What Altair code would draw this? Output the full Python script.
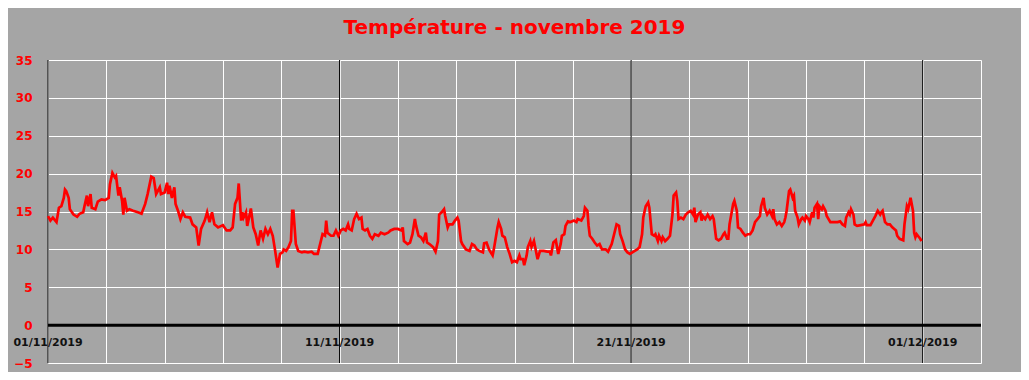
import altair as alt
import pandas as pd

TITLE = "Température - novembre 2019"

# hours since 01/11/2019 00:00
HOURS = [
    0, 2, 4, 7, 9, 11, 13, 14, 15, 17, 18, 21, 24, 26, 29, 30, 32, 33, 35, 36,
    39, 41, 44, 47, 50, 51, 53, 55, 56, 58, 59, 61, 62, 63, 65, 67, 70, 74, 77, 80,
    82, 85, 87, 89, 92, 93, 96, 98, 99, 100, 102, 104, 105, 107, 109, 111, 113, 117, 119, 122,
    124, 126, 129, 131, 133, 135, 137, 140, 144, 147,
    150, 152, 154, 156, 157, 159, 160, 161, 163, 164, 166, 167, 169, 171, 173, 175, 177, 179, 181, 183,
    185, 187, 189, 191, 193, 194, 196, 198, 200, 201, 202, 204, 206, 209, 211, 214, 217, 219, 222, 224,
    226, 228, 229, 230, 233, 235, 237, 239, 241, 243, 245, 247, 248, 250, 252, 254, 256, 258, 259, 261,
    263, 265, 267, 269, 272, 274, 277, 280, 282, 285, 288, 291, 292, 293, 296, 298, 300,
    302, 303, 305, 307, 309, 311, 312, 314, 317, 319, 321, 322, 324, 326, 327, 329, 330, 333, 335, 337,
    338, 340, 341, 344, 347, 349, 351, 353, 355, 358, 359, 361, 363, 366, 367, 370, 371, 373, 374, 376,
    378, 380, 382, 384, 386, 388, 389, 391, 392, 394, 395, 397, 398, 400, 401, 403, 405, 408, 411, 413,
    414, 416, 418, 420, 422, 423, 425, 426, 428, 430, 433, 435, 436, 439, 441, 442, 444, 445, 446, 448,
    450, 452,
    454, 456, 459, 461, 464, 466, 468, 470, 471, 473, 475, 477, 479, 481, 483, 485, 487, 489, 490, 492,
    494, 495, 497, 499, 500, 502, 503, 505, 506, 508, 510, 512, 514, 515, 517, 518, 519, 521, 523, 525,
    527, 529, 531, 532, 533, 535, 537, 538, 539, 541, 543, 545, 547, 548, 550, 552, 554, 556, 557, 559,
    560, 561, 563, 564, 565, 567, 568, 570, 572, 574, 576, 578, 580, 582, 584, 586, 587, 589, 590, 592,
    594, 596, 597, 598, 600, 602, 604, 606, 607, 608, 610,
    611, 613, 614, 615, 617, 618, 620, 621, 623, 624, 626, 627, 629, 630, 631, 633, 634, 635, 637, 638,
    640, 641, 644, 647, 650, 652, 654, 656, 657, 659, 660, 661, 663, 664, 666, 669, 672, 673, 674, 677,
    679, 681, 683, 685, 686, 687, 689, 691, 693, 695, 698, 699, 701, 704, 705, 707, 708, 709, 710, 712,
    713, 714, 715, 717, 718, 719,
]

TEMPS = [
    14.4, 13.8, 14.2, 13.6, 15.5, 15.7, 16.8, 17.9, 17.7, 16.8, 15.3, 14.6, 14.3, 14.7, 14.9, 15.7, 17.1, 15.7, 17.3, 15.5,
    15.3, 16.3, 16.6, 16.5, 16.8, 18.6, 20.1, 19.5, 19.7, 17.1, 18.2, 16.4, 14.6, 16.8, 15.1, 15.3, 15.1, 14.9, 14.7, 16.0,
    17.3, 19.6, 19.4, 17.3, 18.2, 17.3, 17.5, 18.8, 17.3, 18.4, 16.8, 18.2, 16.0, 15.1, 14.0, 14.9, 14.3, 14.2, 13.3, 12.9,
    10.5, 12.7, 13.8, 14.9, 13.6, 14.9, 13.3, 12.9, 13.2, 12.5,
    12.5, 12.9, 16.0, 16.8, 18.7, 13.8, 14.9, 14.2, 14.9, 13.1, 14.6, 15.4, 12.9, 12.0, 10.5, 12.5, 11.4, 12.7, 12.0, 12.7,
    11.8, 9.8, 7.6, 9.4, 9.6, 10.0, 9.8, 10.3, 11.1, 15.1, 15.1, 10.7, 9.8, 9.6, 9.7, 9.6, 9.7, 9.4, 9.4, 10.7,
    12.0, 11.8, 13.8, 12.2, 11.8, 11.8, 12.5, 11.8, 12.5, 12.7, 12.5, 13.3, 12.7, 12.5, 14.0, 14.7, 14.0, 14.2, 12.7, 12.5,
    12.7, 11.8, 11.4, 12.0, 11.8, 12.2, 12.0, 12.2, 12.5, 12.7, 12.7, 12.5, 12.9, 11.1, 10.7, 10.9, 12.0,
    14.0, 13.1, 11.8, 11.6, 11.1, 12.2, 10.9, 10.7, 10.3, 9.7, 11.1, 14.6, 14.9, 15.3, 14.4, 12.9, 13.3, 13.3, 13.8, 14.2,
    13.8, 11.1, 10.7, 10.0, 9.8, 10.7, 10.5, 10.0, 9.8, 9.6, 10.8, 10.9, 10.0, 9.2, 10.0, 12.9, 13.6, 12.7, 11.8, 11.6,
    10.3, 9.4, 8.3, 8.5, 8.3, 9.2, 8.7, 8.7, 7.9, 9.2, 10.3, 11.1, 10.3, 11.1, 10.3, 8.7, 9.8, 9.8, 9.7, 9.7,
    9.2, 10.9, 11.2, 9.4, 10.7, 11.8, 12.0, 13.1, 13.7, 13.6, 13.8, 13.6, 14.0, 13.8, 14.4, 15.5, 15.1, 13.1, 11.8, 11.4,
    10.9, 10.5,
    10.7, 10.0, 10.0, 9.7, 10.7, 12.0, 13.3, 13.1, 12.0, 11.1, 10.0, 9.6, 9.4, 9.6, 9.8, 10.0, 10.3, 12.0, 14.2, 15.7,
    16.2, 15.5, 12.0, 11.8, 12.0, 11.1, 11.8, 11.1, 11.6, 11.1, 11.4, 11.8, 14.6, 17.1, 17.5, 16.4, 14.0, 14.2, 14.0, 14.6,
    14.9, 15.1, 14.6, 15.5, 13.6, 14.6, 14.9, 13.8, 14.4, 14.0, 14.6, 14.0, 14.4, 14.0, 11.4, 11.2, 11.4, 12.0, 12.2, 11.4,
    11.4, 13.3, 15.1, 16.0, 16.4, 15.1, 12.9, 12.7, 12.2, 11.8, 12.0, 12.0, 12.5, 13.6, 14.0, 14.4, 15.7, 16.8, 15.5, 14.6,
    15.1, 14.4, 15.3, 14.0, 13.3, 13.6, 13.1, 13.6, 14.2, 15.1, 17.7,
    17.9, 16.8, 17.1, 15.1, 14.2, 13.3, 14.0, 14.2, 13.8, 14.4, 14.0, 13.6, 14.9, 14.2, 15.5, 16.0, 14.0, 15.7, 15.3, 15.7,
    15.1, 14.4, 13.6, 13.6, 13.6, 13.7, 13.3, 13.1, 14.2, 14.9, 14.6, 15.3, 14.6, 13.3, 13.1, 13.2, 13.3, 13.6, 13.2, 13.2,
    13.8, 14.4, 15.1, 14.6, 14.9, 15.1, 13.6, 13.3, 13.3, 12.9, 12.5, 11.8, 11.4, 11.2, 13.3, 15.7, 15.3, 16.0, 16.8, 15.1,
    12.2, 11.6, 12.0, 11.6, 11.4, 11.1,
]

Y_TICKS = [-5, 0, 5, 10, 15, 20, 25, 30, 35]
X_GRID_DAYS = [0, 2, 4, 6, 8, 10, 12, 14, 16, 18, 20, 22, 24, 26, 28, 30, 32]
LABEL_DAYS = [0, 10, 20, 30]
LABELS = ["01/11/2019", "11/11/2019", "21/11/2019", "01/12/2019"]

assert len(HOURS) == len(TEMPS), (len(HOURS), len(TEMPS))

df = pd.DataFrame({"jour": [h / 24 for h in HOURS], "temp": TEMPS})
lab = pd.DataFrame({"jour": LABEL_DAYS, "label": LABELS})
zero_df = pd.DataFrame({"temp": [0]})

xs = alt.Scale(domain=[0, 32], nice=False, zero=False)
ys = alt.Scale(domain=[-5, 35], nice=False)

x_axis = alt.Axis(values=X_GRID_DAYS, grid=True, gridColor="#ffffff", gridWidth=1,
                  labels=False, ticks=False, domain=False, title=None)
y_axis = alt.Axis(values=Y_TICKS, grid=True, gridColor="#ffffff", gridWidth=1,
                  labelColor="#ff0000", labelFont="DejaVu Sans", labelFontWeight="bold",
                  labelFontSize=12, labelOverlap=False, labelFlush=False,
                  ticks=False, tickSize=0, domain=False,
                  labelPadding=16, title=None)

line = alt.Chart(df).mark_line(color="#ff0000", strokeWidth=2.7).encode(
    x=alt.X("jour:Q", scale=xs, axis=x_axis),
    y=alt.Y("temp:Q", scale=ys, axis=y_axis),
)

vrules = alt.Chart(lab).mark_rule(color="#000000", strokeWidth=1).encode(
    x=alt.X("jour:Q", scale=xs, axis=x_axis)
)

zero = alt.Chart(zero_df).mark_rule(color="#000000", strokeWidth=3).encode(
    y=alt.Y("temp:Q", scale=ys, axis=y_axis)
)

texts = alt.Chart(lab).mark_text(
    font="DejaVu Sans", fontWeight="bold", fontSize=11, color="#111111", baseline="middle"
).encode(
    x=alt.X("jour:Q", scale=xs, axis=x_axis),
    y=alt.value(283),
    text="label:N",
)

chart = alt.layer(vrules, zero, line, texts).resolve_axis(x="shared", y="shared").properties(
    width=933,
    height=303,
    padding={"left": 40, "top": 52, "right": 40, "bottom": 9},
    autosize=alt.AutoSizeParams(type="none"),
    background="#a5a5a5",
    title=alt.TitleParams(TITLE, color="#ff0000", font="DejaVu Sans", fontSize=20,
                          fontWeight="bold", anchor="middle", offset=16),
).configure_view(stroke="transparent")

chart.save("out.html", embed_options={"renderer": "svg", "actions": False})
